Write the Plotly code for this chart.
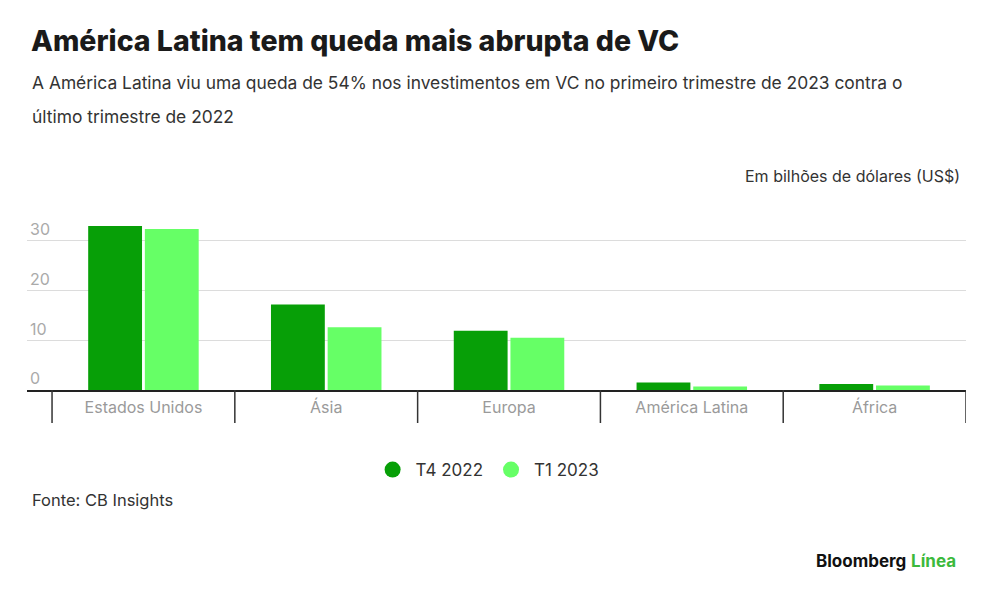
import plotly.graph_objects as go

# Data (billions of US$)
regions = ["Estados Unidos", "Ásia", "Europa", "América Latina", "África"]
t4_2022 = [33.0, 17.2, 11.9, 1.5, 1.2]
t1_2023 = [32.4, 12.6, 10.5, 0.7, 0.9]
series_names = ["T4 2022", "T1 2023"]
y_ticks = [0, 10, 20, 30]

DARK_GREEN = "#079f07"
LIGHT_GREEN = "#66ff66"
FONT = "Inter"

W, H = 1000, 604
plot_left, plot_right = 27, 966
plot_top, plot_bottom = 215, 390


def py(pix):
    # pixel row -> paper y
    return (plot_bottom - pix) / (plot_bottom - plot_top)


def px(pix):
    # pixel column -> paper x
    return (pix - plot_left) / (plot_right - plot_left)


fig = go.Figure()

fig.add_trace(go.Bar(x=regions, y=t4_2022, name=series_names[0],
                     marker=dict(color=DARK_GREEN, line=dict(width=0)),
                     showlegend=False))
fig.add_trace(go.Bar(x=regions, y=t1_2023, name=series_names[1],
                     marker=dict(color=LIGHT_GREEN, line=dict(width=0)),
                     showlegend=False))

# legend entries as circles
for name, col in zip(series_names, [DARK_GREEN, LIGHT_GREEN]):
    fig.add_trace(go.Scatter(x=[None], y=[None], mode="markers", name=name,
                             marker=dict(color=col, size=22, symbol="circle")))

# category dividers below the axis
for i in range(len(regions) + 1):
    fig.add_shape(type="line", xref="x", yref="paper",
                  x0=i - 0.5, x1=i - 0.5, y0=0, y1=py(423),
                  line=dict(color="#333333", width=1.5))

fig.update_layout(
    width=W, height=H,
    margin=dict(l=plot_left, r=W - plot_right, t=plot_top, b=H - plot_bottom),
    paper_bgcolor="white", plot_bgcolor="white",
    font=dict(family=FONT, color="#333333"),
    barmode="group", bargap=0.38, bargroupgap=0.05,
    legend=dict(orientation="h", x=0.49, xanchor="center", y=py(470),
                yanchor="middle", font=dict(size=17, color="#333333"),
                itemsizing="trace", itemwidth=36, traceorder="normal"),
)

fig.update_xaxes(range=[-0.637, len(regions) - 0.5], showgrid=False,
                 showline=True, linecolor="#222222", linewidth=2,
                 ticks="", tickfont=dict(size=16, color="#9a9a9a"),
                 ticklabelstandoff=2, fixedrange=True)
fig.update_yaxes(range=[0, 35.2], tickvals=y_ticks, showgrid=True,
                 gridcolor="#dcdcdc", gridwidth=1, zeroline=False,
                 showline=False, ticks="", ticklabelposition="inside top",
                 tickfont=dict(size=16, color="#aaaaaa"), fixedrange=True)

annotations = [
    dict(text="América Latina tem queda mais abrupta de VC",
         x=px(29), y=py(40), font=dict(size=28.5, color="#1a1a1a", weight=800)),
    dict(text="A América Latina viu uma queda de 54% nos investimentos em VC "
              "no primeiro trimestre de 2023 contra o",
         x=px(30), y=py(82), font=dict(size=17.4, color="#333333")),
    dict(text="último trimestre de 2022",
         x=px(30), y=py(116), font=dict(size=17.4, color="#333333")),
    dict(text="Em bilhões de dólares (US$)", x=px(962), y=py(176),
         xanchor="right", font=dict(size=16, color="#333333")),
    dict(text="Fonte: CB Insights", x=px(30), y=py(500),
         font=dict(size=16.5, color="#333333")),
    dict(text="<b>Bloomberg</b> <b><span style='color:#3cb93c'>Línea</span></b>",
         x=px(958), y=py(561), xanchor="right",
         font=dict(size=17, color="#111111")),
]
for a in annotations:
    a.setdefault("xanchor", "left")
    fig.add_annotation(xref="paper", yref="paper", showarrow=False,
                       yanchor="middle", **a)

# drop the default page margin so the figure sits at the window origin
fig.write_html("out.html", config={"displayModeBar": False},
               post_script="document.body.style.margin='0';")
